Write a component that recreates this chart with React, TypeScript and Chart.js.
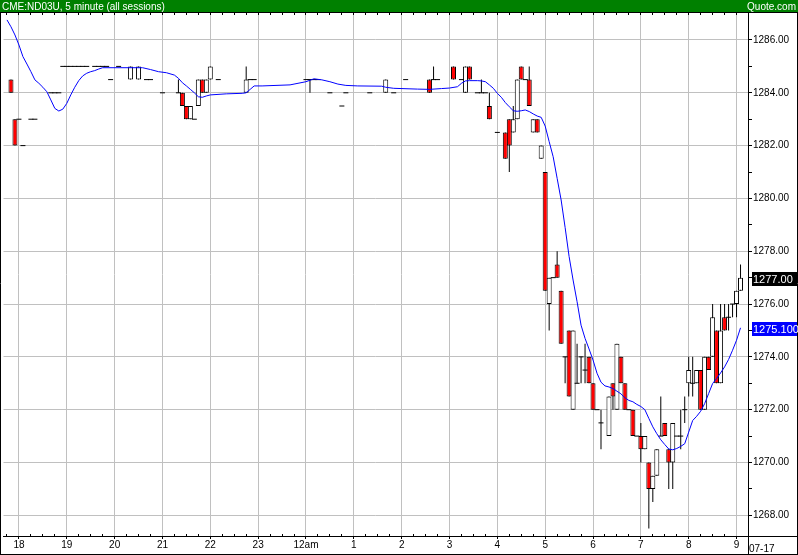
import React, { useEffect, useRef } from "react";
import { Chart, registerables } from "chart.js";

Chart.register(...registerables);

// ---- Header texts ----
const titleText = "CME:ND03U, 5 minute (all sessions)";
const sourceText = "Quote.com";
const dateText = "07-17";

// ---- Time axis: slot index (5-minute bars, 0 = 18:00) ----
const hourLabels = ["18", "19", "20", "21", "22", "23", "12am", "1", "2", "3", "4", "5", "6", "7", "8", "9"];

// ---- Candles (slot, open, high, low, close) ----
const slots = [
  -2, -1, 0, 1, 3, 4, 8, 9, 10,
  11, 12, 13, 14, 15, 16, 17, 19, 20, 21, 22, 23, 25,
  28, 30, 32, 33, 36, 40, 41, 42, 43, 44, 45, 46, 47, 48, 50,
  57, 58, 59, 72, 73, 74, 75, 78, 81, 82, 88, 92, 94, 97,
  103, 104, 105, 109, 111, 112, 113, 115, 116, 117, 118, 120,
  122, 123, 124, 125, 126, 127, 128, 129, 130, 131,
  132, 133, 134, 135, 136, 137, 138, 139, 140, 141, 142, 143, 144, 145, 146,
  148, 149, 150, 151, 152, 153, 154, 155, 156, 157, 158, 159, 160,
  161, 162, 163, 164, 165, 166, 167, 168, 169, 170,
  171, 172, 173, 174, 175, 176, 177, 178, 179, 180, 181,
];
const opens = [
  1284.5, 1283, 1283, 1282, 1283, 1283, 1284, 1284, 1284,
  1285, 1285, 1285, 1285, 1285, 1285, 1285, 1285, 1285, 1285, 1285, 1284.5, 1285,
  1284.5, 1284.5, 1284.5, 1284.5, 1284, 1284, 1284, 1283.5, 1283, 1283, 1283.5, 1284.5, 1284, 1284.5, 1284.5,
  1284, 1284.5, 1284.5, 1284.5, 1284.5, 1284.5, 1284.5, 1284, 1283.5, 1284, 1284, 1284, 1284, 1284.5,
  1284.5, 1284.5, 1284.5, 1285, 1284.5, 1284, 1285, 1284, 1284, 1284, 1283.5, 1282.5,
  1282.5, 1283, 1282.5, 1283, 1285, 1284.5, 1284.5, 1282.5, 1283, 1281.5,
  1281, 1276, 1277, 1277.5, 1276.5, 1274, 1275, 1272, 1273, 1274, 1273.5, 1274, 1273, 1272, 1271.5,
  1271, 1273, 1272, 1274, 1273, 1272, 1272, 1271, 1271, 1270.5, 1270, 1269, 1269.5,
  1271, 1271.5, 1270.5, 1270, 1271, 1271, 1272, 1273, 1273, 1273,
  1273.5, 1272, 1274, 1274, 1275, 1273, 1275.5, 1275.5, 1276, 1276, 1276.5,
];
const highs = [
  1284.5, 1283, 1283, 1282, 1283, 1283, 1284, 1284, 1284,
  1285, 1285, 1285, 1285, 1285, 1285, 1285, 1285, 1285, 1285, 1285, 1284.5, 1285,
  1285, 1285, 1284.5, 1284.5, 1284, 1284.5, 1284, 1283.5, 1283.5, 1283, 1284.5, 1284.5, 1284.5, 1285, 1284.5,
  1285, 1284.5, 1284.5, 1284.5, 1284.5, 1284.5, 1284.5, 1284, 1283.5, 1284, 1284, 1284.5, 1284, 1284.5,
  1284.5, 1285, 1284.5, 1285, 1284.5, 1285, 1285, 1284, 1284.5, 1284, 1284, 1282.5,
  1282.5, 1283, 1283.5, 1284.5, 1285, 1284.5, 1285, 1283, 1283, 1282,
  1281, 1277, 1277, 1278, 1276.5, 1274, 1275, 1275, 1274.5, 1274, 1274.5, 1274, 1273, 1272, 1272,
  1272.5, 1273, 1274.5, 1274, 1273, 1272, 1272, 1271, 1271.5, 1271, 1270, 1269.5, 1270.5,
  1272.5, 1271.5, 1270.5, 1271.5, 1271, 1272, 1272.5, 1274, 1274, 1273.5,
  1273.5, 1274, 1274, 1276, 1275, 1276, 1276, 1276, 1276, 1276.5, 1277.5,
];
const lows = [
  1284, 1282, 1283, 1282, 1283, 1283, 1284, 1284, 1284,
  1285, 1285, 1285, 1285, 1285, 1285, 1285, 1285, 1285, 1285, 1285, 1284.5, 1285,
  1284.5, 1284.5, 1284.5, 1284.5, 1284, 1284, 1283.5, 1283, 1283, 1283, 1283.5, 1284, 1284, 1284.5, 1284.5,
  1284, 1284.5, 1284.5, 1284.5, 1284, 1284.5, 1284.5, 1284, 1283.5, 1284, 1284, 1284, 1284, 1284.5,
  1284, 1284.5, 1284.5, 1284.5, 1284.5, 1284, 1284.5, 1284, 1284, 1284, 1283, 1282.5,
  1281.5, 1281, 1282.5, 1283, 1284.5, 1284.5, 1283.5, 1282.5, 1282.5, 1281.5,
  1276.5, 1275, 1277, 1277, 1274.5, 1273, 1272.5, 1272, 1273, 1273, 1273, 1273, 1272, 1272, 1270.5,
  1271, 1272, 1272, 1273, 1272, 1272, 1271, 1271, 1270, 1270.5, 1267.5, 1268.5, 1269.5,
  1271, 1271, 1269, 1269, 1271, 1270.5, 1271.5, 1272.5, 1272.5, 1273,
  1272, 1272, 1273.5, 1274, 1273, 1273, 1275, 1275, 1275.5, 1275.5, 1276.5,
];
const closes = [
  1284, 1282, 1283, 1282, 1283, 1283, 1284, 1284, 1284,
  1285, 1285, 1285, 1285, 1285, 1285, 1285, 1285, 1285, 1285, 1285, 1284.5, 1285,
  1285, 1285, 1284.5, 1284.5, 1284, 1284, 1283.5, 1283, 1283.5, 1283, 1284.5, 1284, 1284.5, 1285, 1284.5,
  1284.5, 1284.5, 1284.5, 1284.5, 1284.5, 1284.5, 1284.5, 1284, 1283.5, 1284, 1284, 1284.5, 1284, 1284.5,
  1284, 1284.5, 1284.5, 1284.5, 1284.5, 1285, 1284.5, 1284, 1284, 1284, 1283, 1282.5,
  1281.5, 1282, 1283, 1284.5, 1284.5, 1284.5, 1283.5, 1283, 1282.5, 1282,
  1276.5, 1277, 1277, 1277, 1274.5, 1274, 1272.5, 1275, 1273, 1274, 1273.5, 1273, 1272, 1272, 1271.5,
  1272.5, 1272.5, 1274.5, 1273, 1272, 1272, 1271, 1271, 1270.5, 1271, 1269, 1269.5, 1270.5,
  1271, 1271, 1270, 1271.5, 1271, 1271, 1272, 1273.5, 1273, 1273.5,
  1272, 1274, 1273.5, 1275.5, 1273, 1275, 1275, 1275.5, 1276, 1276.5, 1277,
];

// ---- Moving average (slot, value) ----
const maSlots = [
  -3, -2, -1, 0, 1, 2, 3, 4, 5, 6, 7, 8, 9, 10, 11, 12, 13, 14, 15, 16, 17, 18, 19, 20, 21,
  31, 33, 35, 37, 39, 40, 41, 42, 43, 44, 45, 46, 47, 48,
  52, 56, 57, 58, 59, 61, 68, 69, 72, 74, 76, 78, 80, 82, 85,
  91, 92, 94, 100, 103, 106, 108, 110, 111, 112, 113, 115,
  116, 117, 118, 119, 120, 121, 122, 123, 124, 125, 126, 127, 128, 129, 130, 131,
  132, 133, 134, 135, 136, 137, 138, 139, 140, 141,
  142, 143, 144, 145, 146, 147, 148, 149, 150, 151,
  152, 153, 154, 155, 156, 157, 158, 159, 160, 161,
  162, 163, 164, 165, 166, 167, 168, 169, 170, 171,
  172, 173, 174, 175, 176, 177, 178, 179, 180, 181,
];
const maValues = [
  1286.76, 1286.5, 1286.19, 1285.81, 1285.37, 1285.09, 1284.8, 1284.49, 1284.36, 1284.21, 1284.04, 1283.73, 1283.41, 1283.31, 1283.38, 1283.6, 1283.92, 1284.21, 1284.46, 1284.64, 1284.74, 1284.8, 1284.84, 1284.9, 1284.95,
  1284.95, 1284.88, 1284.8, 1284.76, 1284.67, 1284.55, 1284.38, 1284.26, 1284.13, 1284.0, 1283.85, 1283.83, 1283.88, 1283.92,
  1283.96, 1283.98, 1284.0, 1284.13, 1284.26, 1284.26, 1284.3, 1284.33, 1284.42, 1284.53, 1284.49, 1284.42, 1284.33, 1284.28, 1284.26,
  1284.25, 1284.21, 1284.17, 1284.14, 1284.13, 1284.16, 1284.18, 1284.23, 1284.36, 1284.45, 1284.46, 1284.46,
  1284.45, 1284.42, 1284.3, 1284.17, 1283.98, 1283.83, 1283.63, 1283.47, 1283.32, 1283.3, 1283.32, 1283.35, 1283.29, 1283.2, 1283.12, 1283.07,
  1282.74, 1282.15, 1281.58, 1280.76, 1279.94, 1278.9, 1277.8, 1276.91, 1276.09, 1275.2,
  1274.7, 1274.3, 1273.88, 1273.38, 1273.04, 1272.9, 1272.86, 1272.8, 1272.7, 1272.6,
  1272.45, 1272.35, 1272.3, 1272.2, 1272.12, 1272.0, 1271.67, 1271.35, 1271.09, 1270.86,
  1270.68, 1270.51, 1270.48, 1270.53, 1270.61, 1270.71, 1271.15, 1271.59, 1271.75, 1271.94,
  1272.23, 1272.61, 1272.99, 1273.18, 1273.39, 1273.62, 1273.9, 1274.25, 1274.63, 1275.1,
];

// ---- Price axis ----
const priceTicks = [1268, 1269, 1270, 1271, 1272, 1273, 1274, 1275, 1276, 1277, 1278, 1279, 1280, 1281, 1282, 1283, 1284, 1285, 1286];

const X_MIN = -3.875;
const X_MAX = 182.875;
const Y_MIN = 1267.216;
const Y_MAX = 1287.022;
const FONT = "'Liberation Sans', Arial, sans-serif";
const GRID = "#c0c0c0";
const CLEAR = "rgba(0,0,0,0)";

function buildConfig(): any {
  const wickData: any[] = [];
  const bodyData: any[] = [];
  const bodyColors: string[] = [];
  const flatData: any[] = [];
  for (let i = 0; i < slots.length; i++) {
    const s = slots[i], o = opens[i], h = highs[i], l = lows[i], c = closes[i];
    if (h !== l) wickData.push({ x: s, y: [l, h] });
    if (o === c) flatData.push({ x: s, y: c });
    else {
      bodyData.push({ x: s, y: [o, c] });
      bodyColors.push(c > o ? "#ffffff" : "#ff0000");
    }
  }
  const maData = maSlots.map((s, i) => ({ x: s, y: maValues[i] }));
  const xTickValues: number[] = [];
  for (let v = -3; v <= 180; v += 3) xTickValues.push(v);

  const isHour = (v: number) => v >= 0 && v % 12 === 0;

  const framePlugin = {
    id: "frame",
    afterDraw(chart: any) {
      const ctx = chart.ctx;
      const { left, right, top, bottom } = chart.chartArea;
      const W = chart.width;
      const H = chart.height;
      const xs = chart.scales.x;
      const ys = chart.scales.y;
      ctx.save();
      // header bar
      ctx.fillStyle = "#008000";
      ctx.fillRect(0, 0, W, 12);
      ctx.fillStyle = "#ffffff";
      ctx.font = `10px ${FONT}`;
      ctx.textBaseline = "alphabetic";
      ctx.textAlign = "left";
      ctx.fillText(titleText, 2, 10);
      ctx.textAlign = "right";
      ctx.fillText(sourceText, W - 2, 10);
      // frame lines
      ctx.strokeStyle = "#000";
      ctx.lineWidth = 1;
      ctx.beginPath();
      ctx.moveTo(0, top - 0.5); ctx.lineTo(W, top - 0.5);
      ctx.moveTo(0.5, top - 1); ctx.lineTo(0.5, H);
      ctx.moveTo(W - 0.5, top - 1); ctx.lineTo(W - 0.5, H);
      ctx.moveTo(0, H - 0.5); ctx.lineTo(W, H - 0.5);
      ctx.moveTo(right, bottom + 0.5); ctx.lineTo(W, bottom + 0.5);
      ctx.moveTo(right + 0.5, bottom); ctx.lineTo(right + 0.5, H);
      // small time ticks along top and bottom edges
      for (const v of xTickValues) {
        const px = Math.round(xs.getPixelForValue(v) - 0.5) + 0.5;
        if (px < left || px > right) continue;
        ctx.moveTo(px, top); ctx.lineTo(px, top + 2);
        if (!isHour(v)) { ctx.moveTo(px, bottom - 2); ctx.lineTo(px, bottom); }
      }
      ctx.stroke();
      // last value boxes
      const boxes = [
        { v: closes[closes.length - 1], text: closes[closes.length - 1].toFixed(2), bg: "#000000" },
        { v: maValues[maValues.length - 1], text: maValues[maValues.length - 1].toFixed(3), bg: "#0000ff" },
      ];
      ctx.font = `11px ${FONT}`;
      ctx.textAlign = "left";
      ctx.textBaseline = "middle";
      for (const b of boxes) {
        const py = ys.getPixelForValue(b.v) + 1;
        ctx.fillStyle = b.bg;
        ctx.fillRect(right + 4, Math.round(py - 7), W - right - 5, 14);
        ctx.fillStyle = "#ffffff";
        ctx.fillText(b.text, right + 5, Math.round(py) + 0.5);
      }
      // date under the price axis
      ctx.fillStyle = "#000";
      ctx.font = `10px ${FONT}`;
      ctx.textBaseline = "alphabetic";
      ctx.fillText(dateText, right + 1, H - 3);
      ctx.restore();
    },
  };

  return {
    type: "bar",
    data: {
      datasets: [
        {
          type: "line",
          label: "MA",
          data: maData,
          borderColor: "#0000ff",
          borderWidth: 1,
          pointRadius: 0,
          tension: 0,
          order: 0,
        },
        {
          type: "line",
          label: "Flat",
          data: flatData,
          showLine: false,
          pointStyle: "line",
          pointRadius: 2.5,
          pointHoverRadius: 2.5,
          pointBorderWidth: 1,
          pointBorderColor: "#000",
          borderColor: "#000",
          order: 1,
        },
        {
          type: "bar",
          label: "Body",
          data: bodyData,
          backgroundColor: bodyColors,
          borderColor: "#000",
          borderWidth: 1,
          borderSkipped: false,
          barThickness: 5,
          grouped: false,
          inflateAmount: 0,
          order: 2,
        },
        {
          type: "bar",
          label: "Wick",
          data: wickData,
          backgroundColor: "#000",
          borderWidth: 0,
          barThickness: 1,
          grouped: false,
          inflateAmount: 0,
          order: 3,
        },
      ],
    },
    options: {
      animation: false,
      responsive: false,
      devicePixelRatio: 1,
      events: [],
      layout: { padding: { top: 13, left: 1, right: 0, bottom: 0 } },
      plugins: { legend: { display: false }, tooltip: { enabled: false }, title: { display: false } },
      scales: {
        x: {
          type: "linear",
          position: "bottom",
          min: X_MIN,
          max: X_MAX,
          offset: false,
          afterBuildTicks: (scale: any) => {
            scale.ticks = xTickValues.map((v) => ({ value: v }));
          },
          afterFit: (scale: any) => {
            scale.height = 19;
          },
          grid: {
            offset: false,
            drawOnChartArea: true,
            drawTicks: true,
            tickLength: 3,
            lineWidth: 1,
            color: (ctx: any) => (ctx.tick && isHour(ctx.tick.value) ? GRID : CLEAR),
            tickColor: (ctx: any) => (ctx.tick && isHour(ctx.tick.value) ? "#000" : CLEAR),
          },
          border: { display: true, color: "#000", width: 1 },
          ticks: {
            autoSkip: false,
            maxRotation: 0,
            minRotation: 0,
            padding: 0,
            color: "#000",
            font: { family: FONT, size: 10 },
            callback: (v: any) => (isHour(v) ? hourLabels[v / 12] ?? "" : ""),
          },
        },
        y: {
          type: "linear",
          position: "right",
          min: Y_MIN,
          max: Y_MAX,
          afterBuildTicks: (scale: any) => {
            scale.ticks = priceTicks.map((v) => ({ value: v }));
          },
          afterFit: (scale: any) => {
            scale.width = 50;
          },
          grid: {
            drawTicks: true,
            tickLength: 4,
            lineWidth: 1,
            color: (ctx: any) => (ctx.tick && ctx.tick.value % 2 === 0 ? GRID : CLEAR),
            tickColor: "#000",
          },
          border: { display: true, color: "#000", width: 1 },
          ticks: {
            padding: 1,
            color: "#000",
            font: { family: FONT, size: 10 },
            callback: (v: any) => (v % 2 === 0 ? Number(v).toFixed(2) : ""),
          },
        },
      },
    },
    plugins: [framePlugin],
  };
}

export default function App() {
  const ref = useRef<HTMLCanvasElement>(null);
  useEffect(() => {
    if (!ref.current) return;
    const chart = new Chart(ref.current, buildConfig());
    return () => chart.destroy();
  }, []);
  return (
    <div style={{ position: "absolute", left: 0, top: 0, width: 798, height: 555, background: "#fff" }}>
      <canvas ref={ref} width={798} height={555} style={{ display: "block", width: 798, height: 555 }} />
    </div>
  );
}
